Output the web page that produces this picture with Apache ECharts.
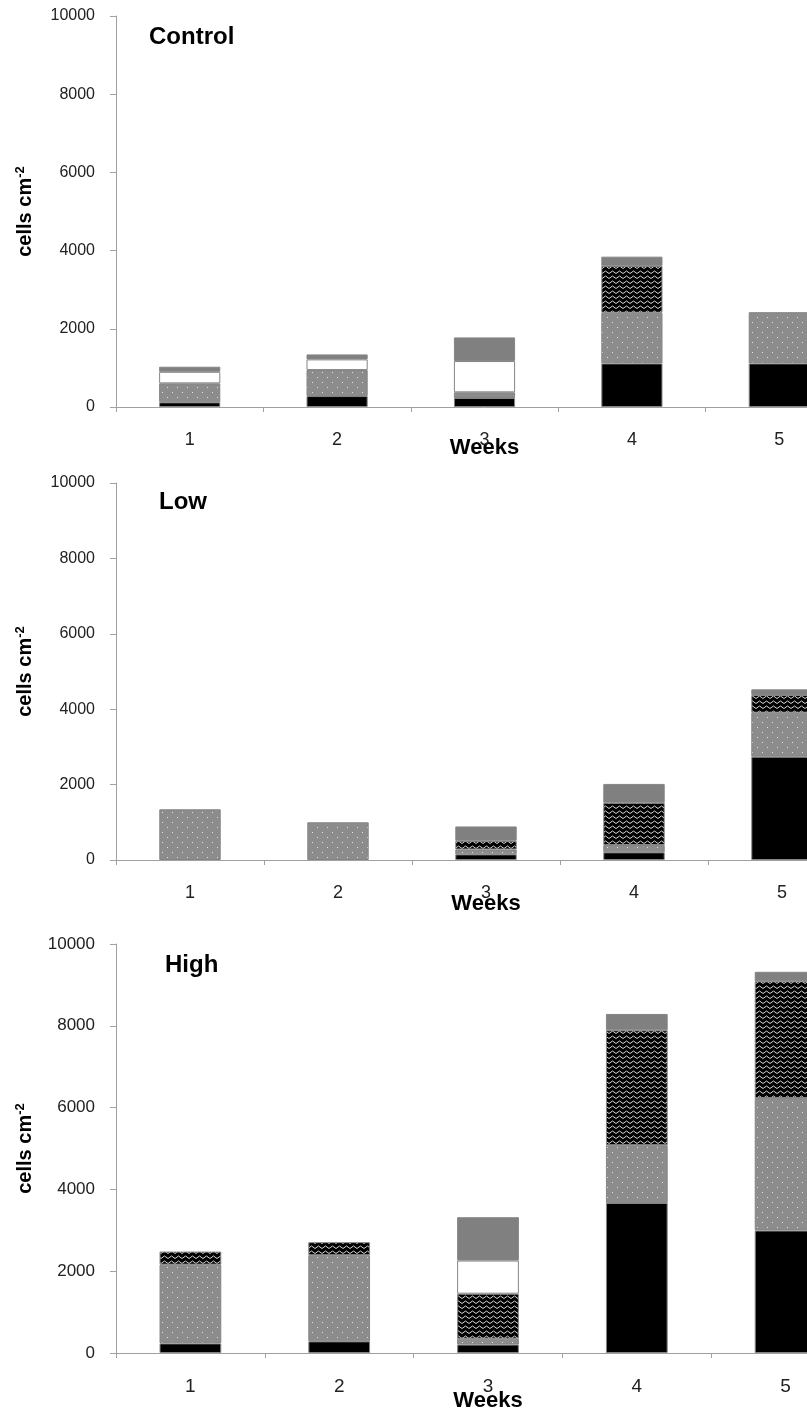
<!DOCTYPE html>
<html><head><meta charset="utf-8">
<script src="https://cdn.jsdelivr.net/npm/echarts@6/dist/echarts.min.js"></script>
<style>html,body{margin:0;padding:0;overflow:hidden;background:#fff}#c{width:900px;height:1414px}</style>
</head><body><div id="c"></div>
<script>
// ---- data ----
const weeks = ['1', '2', '3', '4', '5'];
const panelTitles = ['Control', 'Low', 'High'];
const yMin = 0, yMax = 10000, yStep = 2000;

const controlBlack  = [120, 280, 230, 1115, 1115];
const controlDotted = [485, 665, 145, 1295, 1310];
const controlZigzag = [0, 0, 0, 1200, 0];
const controlWhite  = [295, 273, 800, 0, 0];
const controlGray   = [130, 127, 605, 235, 0];

const lowBlack  = [0, 0, 150, 204, 2740];
const lowDotted = [1345, 1000, 130, 194, 1167];
const lowZigzag = [0, 0, 230, 1120, 470];
const lowWhite  = [0, 0, 0, 0, 0];
const lowGray   = [0, 0, 380, 500, 150];

const highBlack  = [235, 285, 205, 3670, 2995];
const highDotted = [1925, 2105, 145, 1410, 3240];
const highZigzag = [320, 320, 1100, 2810, 2855];
const highWhite  = [0, 0, 810, 0, 0];
const highGray   = [0, 0, 1060, 400, 230];

const panels = [
  [controlBlack, controlDotted, controlZigzag, controlWhite, controlGray],
  [lowBlack, lowDotted, lowZigzag, lowWhite, lowGray],
  [highBlack, highDotted, highZigzag, highWhite, highGray]
];

// ---- styling ----
function makeDots() {
  const c = document.createElement('canvas'); c.width = 10; c.height = 10;
  const g = c.getContext('2d');
  g.fillStyle = '#8c8c8c'; g.fillRect(0, 0, 10, 10);
  g.fillStyle = '#e2e2e2'; g.fillRect(2, 2, 1, 1); g.fillRect(7, 7, 1, 1);
  return c;
}
function makeZig() {
  const c = document.createElement('canvas'); c.width = 7; c.height = 5;
  const g = c.getContext('2d');
  g.fillStyle = '#000'; g.fillRect(0, 0, 7, 5);
  g.strokeStyle = '#d4d4d4'; g.lineWidth = 1;
  g.beginPath(); g.moveTo(0, 3.5); g.lineTo(3.5, 1); g.lineTo(7, 3.5); g.stroke();
  return c;
}
const fills = [
  '#000000',
  { image: makeDots(), repeat: 'repeat' },
  { image: makeZig(), repeat: 'repeat' },
  '#ffffff',
  '#808080'
];
const FONT = 'Liberation Sans, Arial, sans-serif';
const grids = [
  { left: 116, top: 16, width: 737, height: 391 },
  { left: 116, top: 483, width: 740, height: 377 },
  { left: 116, top: 944, width: 744, height: 409 }
];
const titleTops = [25, 490, 953];
const titleLefts = [149, 159, 165];
const weeksGap = [30, 33, 37];
const yLabelSize = [16, 16, 17];
const xLabelSize = [18, 18, 19];
const axisGray = '#a0a0a0';

const option = {
  animation: false,
  backgroundColor: '#fff',
  title: panelTitles.map((t, i) => ({
    text: t, left: titleLefts[i], top: titleTops[i], padding: 0,
    textStyle: { fontFamily: FONT, fontSize: 24, fontWeight: 'bold', color: '#000' }
  })),
  grid: grids,
  xAxis: grids.map((g, i) => ({
    type: 'category', gridIndex: i, data: weeks, boundaryGap: true,
    axisLine: { lineStyle: { color: axisGray, width: 1 } },
    axisTick: { show: true, length: 5, interval: 0, lineStyle: { color: axisGray } },
    axisLabel: { fontFamily: FONT, fontSize: xLabelSize[i], color: '#222', margin: 24 },
    name: 'Weeks', nameLocation: 'middle', nameGap: weeksGap[i], nameMoveOverlap: false,
    nameTextStyle: { fontFamily: FONT, fontSize: 22, fontWeight: 'bold', color: '#000' }
  })),
  yAxis: grids.map((g, i) => ({
    type: 'value', gridIndex: i, min: yMin, max: yMax, interval: yStep,
    axisLine: { show: true, lineStyle: { color: axisGray, width: 1 } },
    axisTick: { show: true, length: 6, lineStyle: { color: axisGray } },
    splitLine: { show: false },
    axisLabel: { fontFamily: FONT, fontSize: yLabelSize[i], color: '#222', margin: 21,
      formatter: v => String(v) },
    name: '{a|cells cm}{b|-2}', nameLocation: 'middle', nameGap: 80, nameMoveOverlap: false,
    nameTextStyle: {
      rich: {
        a: { fontFamily: FONT, fontSize: 20, fontWeight: 'bold', color: '#000', lineHeight: 22 },
        b: { fontFamily: FONT, fontSize: 13, fontWeight: 'bold', color: '#000', verticalAlign: 'top' }
      }
    }
  })),
  series: []
};

panels.forEach((pdata, p) => {
  pdata.forEach((vals, s) => {
    option.series.push({
      type: 'bar', xAxisIndex: p, yAxisIndex: p, stack: 'panel' + p,
      barWidth: '41.5%',
      data: vals.map(v => (v === 0 ? '-' : v)),
      itemStyle: { color: fills[s], borderColor: '#858585', borderWidth: 1 },
      emphasis: { disabled: true }
    });
  });
});

const chart = echarts.init(document.getElementById('c'), null, { renderer: 'canvas' });
chart.setOption(option);
</script>
</body></html>
